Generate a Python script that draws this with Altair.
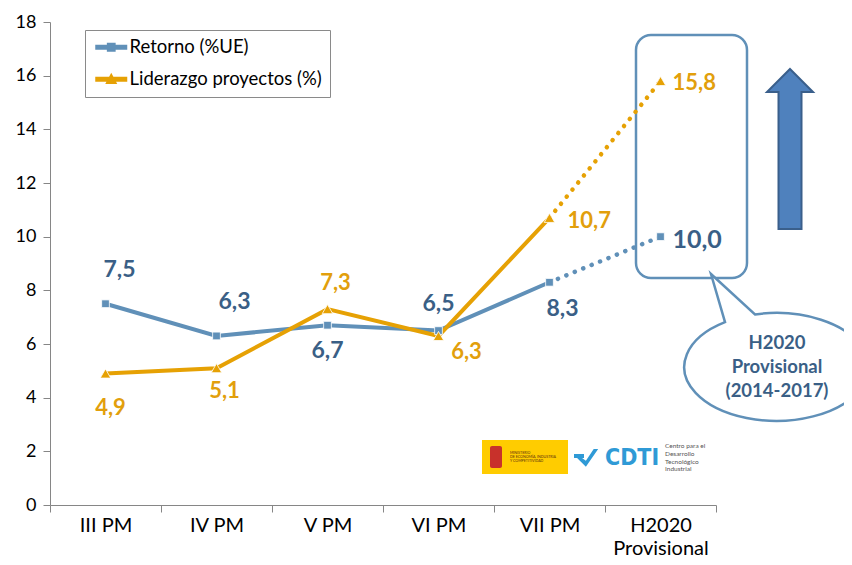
import altair as alt
import pandas as pd

categories = ["III PM", "IV PM", "V PM", "VI PM", "VII PM", "H2020 Provisional"]
retorno = [7.5, 6.3, 6.7, 6.5, 8.3, 10.0]
liderazgo = [4.9, 5.1, 7.3, 6.3, 10.7, 15.8]
series_names = ["Retorno (%UE)", "Liderazgo proyectos (%)"]
y_ticks = [0, 2, 4, 6, 8, 10, 12, 14, 16, 18]
bubble_text = ["H2020", "Provisional", "(2014-2017)"]
cdti_text = ["Centro para el", "Desarrollo", "Tecnológico", "Industrial"]
ministry_text = ["MINISTERIO", "DE ECONOMÍA, INDUSTRIA", "Y COMPETITIVIDAD"]

FONT = "Lato"
BLUE = "#6090B8"
BLUE_TXT = "#3A5F86"
ORANGE = "#E6A104"
ORANGE_TXT = "#E29F0C"

rows = []
for i, c in enumerate(categories):
    rows.append({"cat": c, "idx": i, "serie": series_names[0], "v": retorno[i]})
    rows.append({"cat": c, "idx": i, "serie": series_names[1], "v": liderazgo[i]})
df = pd.DataFrame(rows)

x_enc = alt.X("cat:N", sort=categories, title=None,
              scale=alt.Scale(paddingInner=0, paddingOuter=0),
              axis=alt.Axis(labelExpr="datum.value == 'H2020 Provisional' ? ['H2020', 'Provisional'] : datum.value",
                            labelAngle=0, tickBand="extent", tickSize=7, tickColor="#868686",
                            domainColor="#868686", labelFont=FONT, labelFontSize=20,
                            labelFontWeight="normal",
                            labelColor="#000", labelPadding=3, labelLineHeight=23,
                            labelBaseline="top", grid=False))
y_enc = alt.Y("v:Q", title=None,
              scale=alt.Scale(domain=[0, 18], nice=False),
              axis=alt.Axis(values=y_ticks, tickSize=7, tickColor="#868686",
                            domainColor="#868686", labelFont=FONT, labelFontSize=18,
                            labelFontWeight="normal",
                            labelColor="#000", labelPadding=7, grid=False))

base = alt.Chart(df).encode(x=x_enc, y=y_enc)

def line_layer(serie, color, solid):
    cond = "datum.idx <= 4" if solid else "datum.idx >= 4"
    m = base.transform_filter(alt.datum.serie == serie).transform_filter(cond)
    if solid:
        return m.mark_line(color=color, strokeWidth=4)
    return m.mark_line(color=color, strokeWidth=4.5, strokeDash=[0.1, 9], strokeCap="round")

lines = [
    line_layer(series_names[0], BLUE, True),
    line_layer(series_names[0], BLUE, False),
    line_layer(series_names[1], ORANGE, True),
    line_layer(series_names[1], ORANGE, False),
]

markers = [
    base.transform_filter(alt.datum.serie == series_names[0]).mark_point(
        shape="square", filled=True, size=60, color=BLUE, stroke="white", strokeWidth=0.8, opacity=1),
    base.transform_filter(alt.datum.serie == series_names[1]).mark_point(
        shape="triangle-up", filled=True, size=110, color=ORANGE, stroke="white", strokeWidth=0.8, opacity=1),
]

# label placement styling (dx, dy, size, align) per series / category
blue_place = {0: (14, -34, 23, "center"), 1: (18, -34, 23, "center"), 2: (0, 26, 23, "center"),
              3: (0, -27, 23, "center"), 4: (13, 27, 23, "center"), 5: (12, 3, 25, "left")}
orange_place = {0: (5, 34, 22, "center"), 1: (8, 23, 22, "center"), 2: (8, -26, 22, "center"),
                3: (28, 16, 22, "center"), 4: (18, 3, 22, "left"), 5: (12, 2, 22, "left")}

labels = []
for serie, place, col in [(series_names[0], blue_place, BLUE_TXT), (series_names[1], orange_place, ORANGE_TXT)]:
    for idx, (dx, dy, fs, al) in place.items():
        labels.append(
            base.transform_filter(alt.datum.serie == serie)
            .transform_filter(alt.datum.idx == idx)
            .transform_calculate(lab="replace(format(datum.v, '.1f'), '.', ',')")
            .mark_text(dx=dx, dy=dy, fontSize=fs, fontWeight="bold", font=FONT, color=col,
                       align=al, baseline="middle")
            .encode(text="lab:N")
        )

legend_paths = [
    "M-2,-0.3H2V0.3H-2Z M-0.55,-0.55H0.55V0.55H-0.55Z",
    "M-2,-0.3H2V0.3H-2Z M0,-0.8L0.75,0.6H-0.75Z",
]
legend_cfg = dict(title=None, orient="none", legendX=35, legendY=8,
                  labelFont=FONT, labelFontSize=18.5, labelColor="#000", labelLimit=400,
                  strokeColor="#8a8a8a", fillColor="white", padding=8,
                  symbolOffset=9, labelOffset=9, rowPadding=13,
                  symbolSize=256, symbolStrokeWidth=0)
legend_layer = base.transform_filter("false").mark_point(filled=True, size=256, opacity=1).encode(
    color=alt.Color("serie:N", scale=alt.Scale(domain=series_names, range=[BLUE, ORANGE]),
                    legend=alt.Legend(**legend_cfg)),
    shape=alt.Shape("serie:N", scale=alt.Scale(domain=series_names, range=legend_paths),
                    legend=alt.Legend(**legend_cfg)),
)

deco_data = alt.Chart(pd.DataFrame({"a": [0]}))

callout_box = deco_data.mark_rect(fillOpacity=0, stroke=BLUE, strokeWidth=2.5, cornerRadius=15).encode(
    x=alt.value(586), x2=alt.value(697), y=alt.value(13), y2=alt.value(256))

bubble_path = "M-0.21,-0.526 A0.92,0.54 0 1,1 -0.51,-0.449 L-0.65,-0.93 Z"
bubble = deco_data.mark_point(shape=bubble_path, size=40000, filled=True, fill="white",
                              stroke=BLUE, strokeWidth=2.5, opacity=1).encode(
    x=alt.value(726), y=alt.value(345))
bubble_txt = deco_data.mark_text(font=FONT, fontSize=18.5, fontWeight="bold", color=BLUE_TXT,
                                 lineHeight=24, align="center", baseline="middle").encode(
    x=alt.value(727), y=alt.value(321), text=alt.value(bubble_text))

arrow_path = "M0,-0.8 L0.23,-0.57 L0.115,-0.57 L0.115,0.8 L-0.115,0.8 L-0.115,-0.57 L-0.23,-0.57 Z"
arrow = deco_data.mark_point(shape=arrow_path, size=40000, filled=True, fill="#4F81BD",
                             stroke="#3A5F8B", strokeWidth=2, opacity=1).encode(
    x=alt.value(740), y=alt.value(127))

# logos
yellow = deco_data.mark_rect(color="#FFCC00").encode(
    x=alt.value(432), x2=alt.value(518), y=alt.value(418), y2=alt.value(452))
crest = deco_data.mark_rect(color="#C8312B", cornerRadius=2).encode(
    x=alt.value(440), x2=alt.value(452), y=alt.value(424), y2=alt.value(446))
ministry = deco_data.mark_text(font=FONT, fontSize=3.6, color="#5a2a10", lineHeight=4.2,
                               align="left", baseline="middle").encode(
    x=alt.value(460), y=alt.value(431), text=alt.value(ministry_text))
check_path = "M-1,-0.2 L-0.1,0.7 L1,-0.9 L0.6,-0.9 L-0.1,0.15 L-0.6,-0.2 Z"
check = deco_data.mark_point(shape=check_path, size=500, filled=True, fill="#2F9AD6", opacity=1).encode(
    x=alt.value(537), y=alt.value(437))
dash = deco_data.mark_rect(color="#2F9AD6").encode(
    x=alt.value(524), x2=alt.value(534), y=alt.value(432), y2=alt.value(436))
cdti = deco_data.mark_text(font="DejaVu Sans Condensed", fontSize=23, fontWeight="bold",
                           color="#2F9AD6", align="left", baseline="middle").encode(
    x=alt.value(555), y=alt.value(436), text=alt.value("CDTI"))
cdti_small = deco_data.mark_text(font=FONT, fontSize=6.5, color="#555", lineHeight=7.8,
                                 align="left", baseline="middle").encode(
    x=alt.value(615), y=alt.value(424), text=alt.value(cdti_text))

chart = alt.layer(
    callout_box, bubble, bubble_txt, arrow,
    yellow, crest, ministry, dash, check, cdti, cdti_small,
    *lines, *markers, *labels, legend_layer,
).properties(
    width=666, height=483,
    autosize=alt.AutoSizeParams(type="none"),
    padding={"left": 42, "top": 14, "right": 128, "bottom": 52},
    background="white",
).configure_view(stroke=None).configure_axis(domainWidth=1, tickWidth=1)

chart.save("out.html", embed_options={"renderer": "svg", "actions": False})
